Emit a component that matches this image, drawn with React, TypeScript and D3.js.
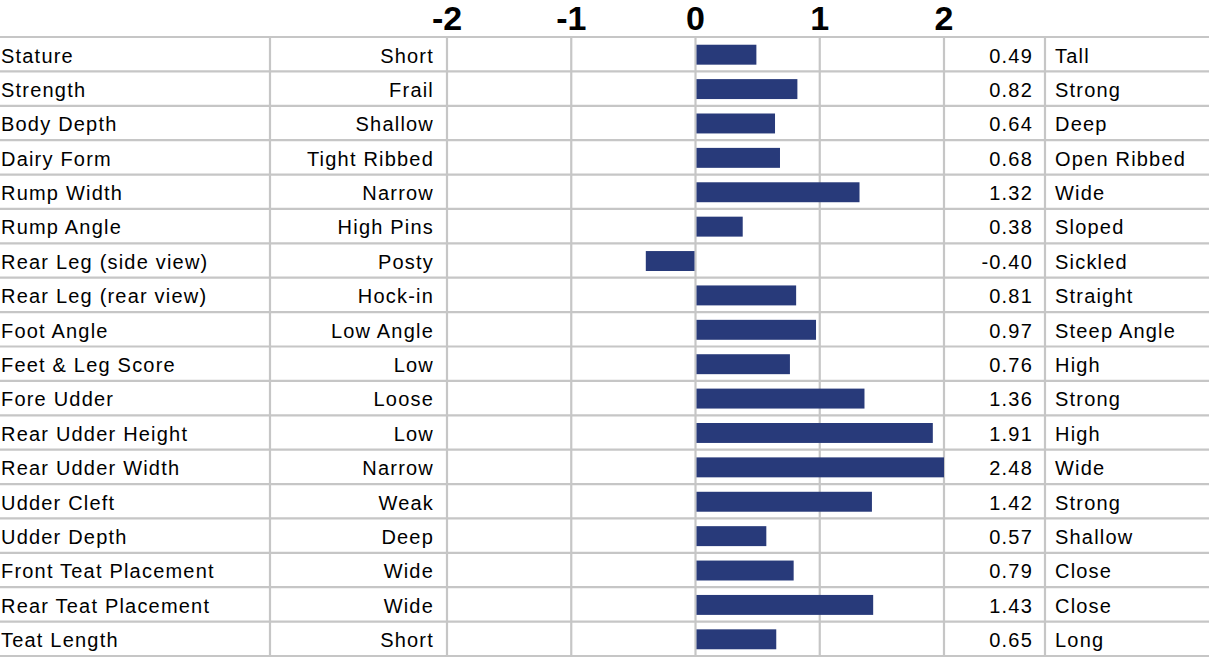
import React from "react";
import * as d3 from "d3";

const traits = [
  "Stature", "Strength", "Body Depth", "Dairy Form", "Rump Width", "Rump Angle",
  "Rear Leg (side view)", "Rear Leg (rear view)", "Foot Angle", "Feet & Leg Score",
  "Fore Udder", "Rear Udder Height", "Rear Udder Width", "Udder Cleft", "Udder Depth",
  "Front Teat Placement", "Rear Teat Placement", "Teat Length",
];
const lowLabels = [
  "Short", "Frail", "Shallow", "Tight Ribbed", "Narrow", "High Pins", "Posty", "Hock-in",
  "Low Angle", "Low", "Loose", "Low", "Narrow", "Weak", "Deep", "Wide", "Wide", "Short",
];
const highLabels = [
  "Tall", "Strong", "Deep", "Open Ribbed", "Wide", "Sloped", "Sickled", "Straight",
  "Steep Angle", "High", "Strong", "High", "Wide", "Strong", "Shallow", "Close", "Close", "Long",
];
const values = [
  0.49, 0.82, 0.64, 0.68, 1.32, 0.38, -0.4, 0.81, 0.97, 0.76, 1.36, 1.91, 2.48, 1.42, 0.57,
  0.79, 1.43, 0.65,
];
const ticks = [-2, -1, 0, 1, 2];

const W = 1211;
const H = 662;
const TOP = 37;
const BOTTOM = 656;
const GRID = "#c6c6c6";
const BAR = "#283a7a";
const FONT = "'Liberation Sans', Arial, Helvetica, sans-serif";

export default function App() {
  const x = d3.scaleLinear().domain([-2, 2]).range([447, 944]).clamp(true);
  const y = d3.scaleBand<string>().domain(traits).range([TOP, BOTTOM]).padding(0);
  const bw = y.bandwidth();
  const barH = bw * 0.58;
  const colLines = [270, ...ticks.map((t) => x(t)), 1045];
  const rowLines = [...traits.map((t) => y(t) as number), BOTTOM];
  const textStyle = { fontFamily: FONT, fontSize: 20, letterSpacing: 1.2, fill: "#000" } as const;

  return (
    <svg
      width={W}
      height={H}
      style={{ position: "absolute", left: 0, top: 0, background: "#fff" }}
    >
      {rowLines.map((ry, i) => (
        <line key={"h" + i} x1={0} x2={1209} y1={ry} y2={ry} stroke={GRID} strokeWidth={2.2} />
      ))}
      {colLines.map((cx, i) => (
        <line key={"v" + i} x1={cx} x2={cx} y1={TOP} y2={BOTTOM} stroke={GRID} strokeWidth={2.2} />
      ))}
      {ticks.map((t) => (
        <text
          key={"t" + t}
          x={x(t)}
          y={30}
          textAnchor="middle"
          style={{ fontFamily: FONT, fontSize: 34, fontWeight: 700, fill: "#000" }}
        >
          {t}
        </text>
      ))}
      {traits.map((t, i) => {
        const top = y(t) as number;
        const v = values[i];
        const x0 = x(Math.min(0, v));
        const x1 = x(Math.max(0, v));
        const base = top + 25.5;
        return (
          <g key={t}>
            <rect
              x={v >= 0 ? x0 + 1 : x0}
              y={top + (bw - barH) / 2 + 0.5}
              width={Math.max(0, x1 - x0 - 1)}
              height={barH}
              fill={BAR}
            />
            <text x={1} y={base} style={textStyle}>{t}</text>
            <text x={434} y={base} textAnchor="end" style={textStyle}>{lowLabels[i]}</text>
            <text x={1033} y={base} textAnchor="end" style={textStyle}>{v.toFixed(2)}</text>
            <text x={1055} y={base} style={textStyle}>{highLabels[i]}</text>
          </g>
        );
      })}
    </svg>
  );
}
